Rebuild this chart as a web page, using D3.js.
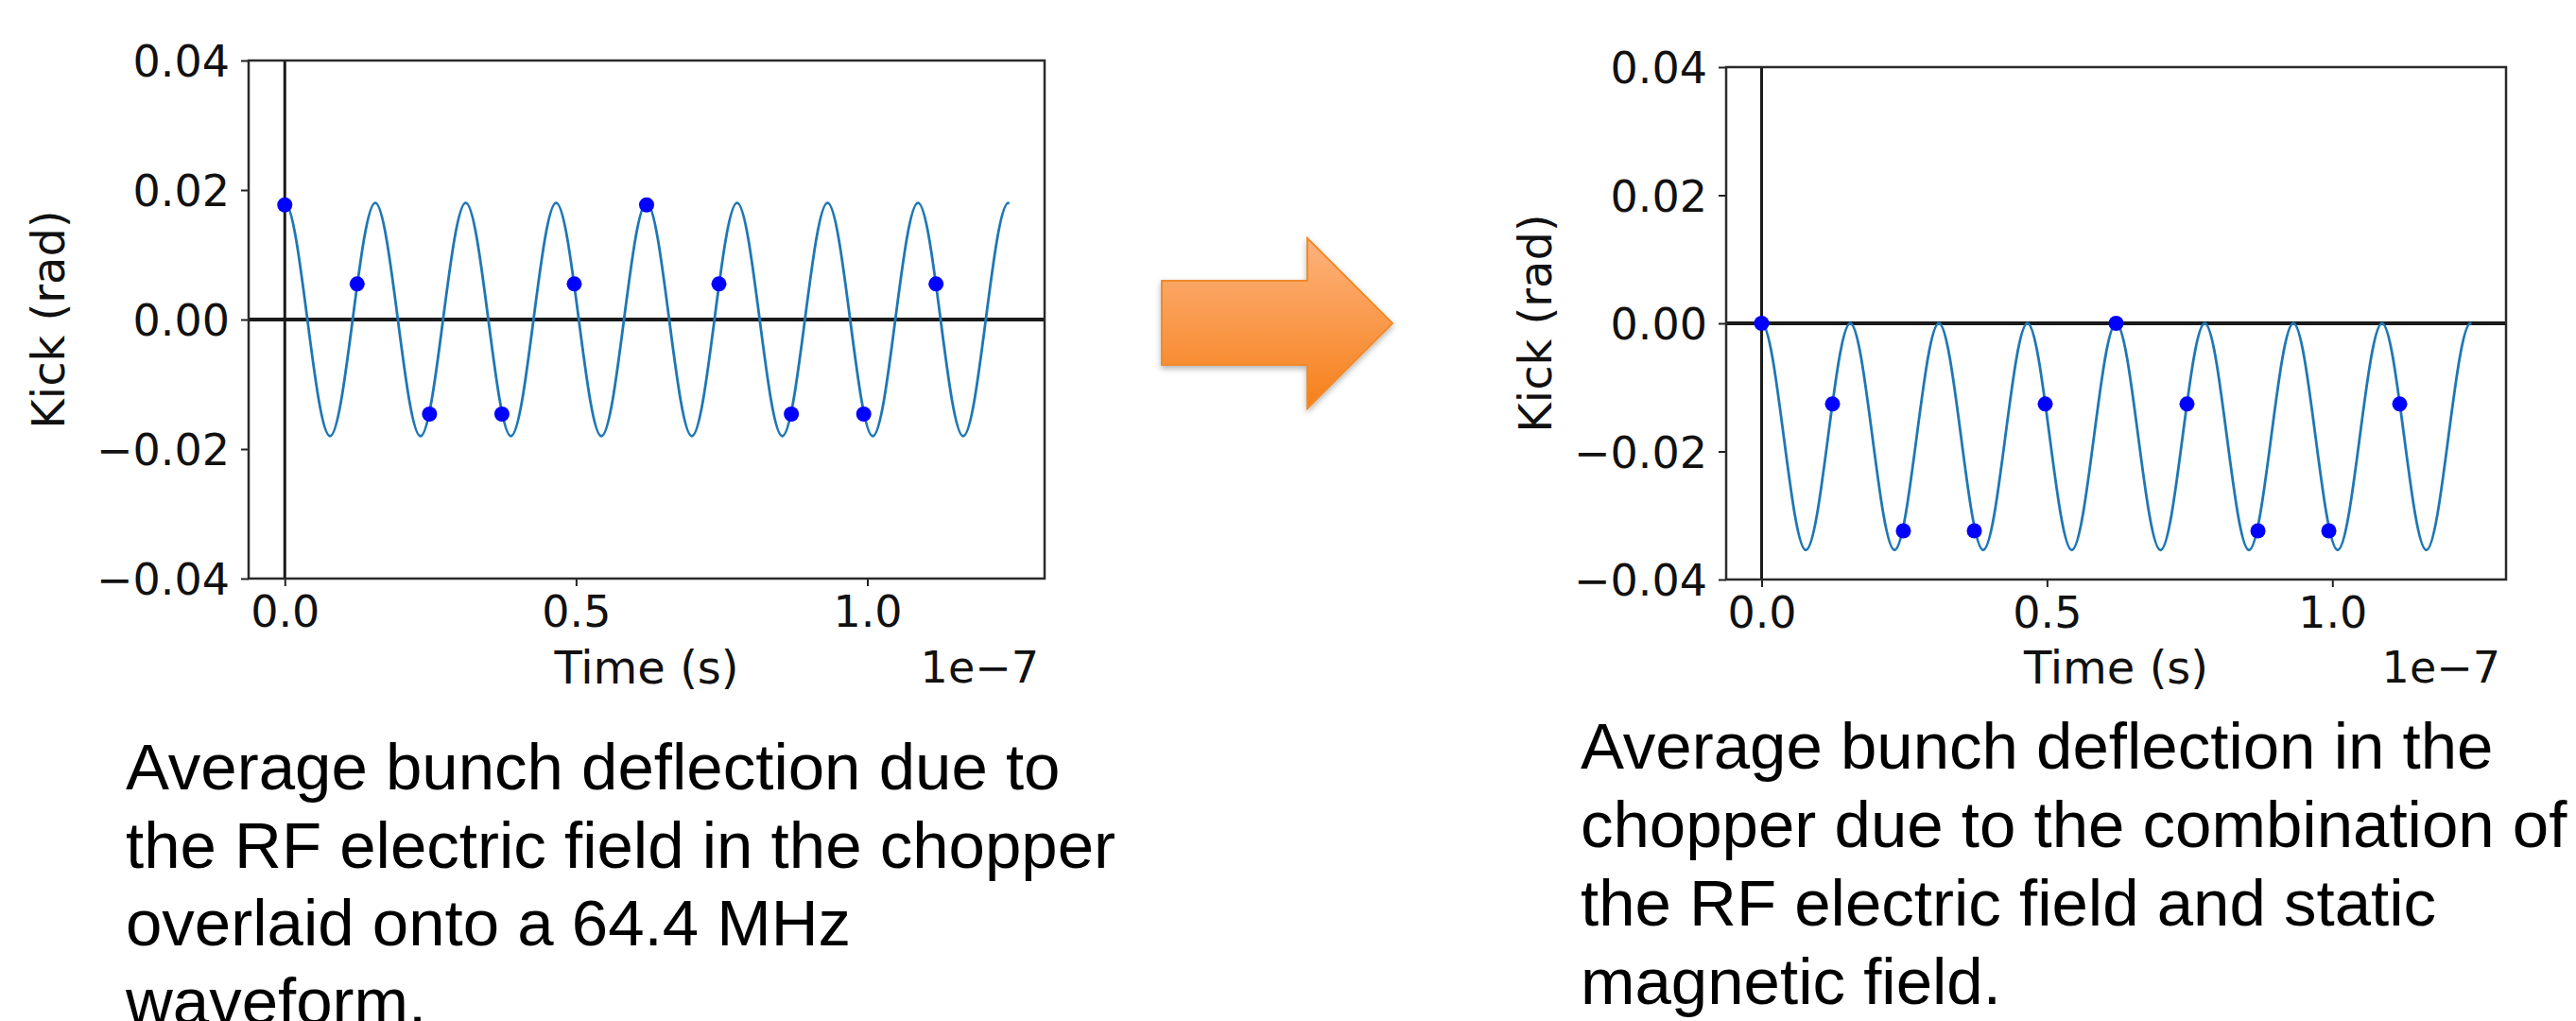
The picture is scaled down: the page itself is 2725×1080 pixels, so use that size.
<!DOCTYPE html>
<html>
<head>
<meta charset="utf-8">
<script src="https://cdn.jsdelivr.net/npm/d3@7"></script>
<style>
  html, body { margin: 0; padding: 0; background: #ffffff; }
  svg { display: block; }
</style>
</head>
<body>
<svg id="chart" width="2725" height="1080"></svg>
<script>
// ---------------- DATA (time in units of 1e-7 s, kick in rad) ----------------
const curveTime = [0, 0.0388, 0.0776, 0.1165, 0.1553, 0.1941, 0.2329, 0.2717, 0.3106,
  0.3494, 0.3882, 0.4270, 0.4658, 0.5047, 0.5435, 0.5823, 0.6211, 0.6599, 0.6988,
  0.7376, 0.7764, 0.8152, 0.8540, 0.8929, 0.9317, 0.9705, 1.0093, 1.0481, 1.0870,
  1.1258, 1.1646, 1.2034, 1.2422];
const kickRF = [0.018, 0, -0.018, 0, 0.018, 0, -0.018, 0, 0.018,
  0, -0.018, 0, 0.018, 0, -0.018, 0, 0.018, 0, -0.018,
  0, 0.018, 0, -0.018, 0, 0.018, 0, -0.018, 0, 0.018,
  0, -0.018, 0, 0.018];
const kickRFStatic = [0, -0.0177, -0.0354, -0.0177, 0, -0.0177, -0.0354, -0.0177, 0,
  -0.0177, -0.0354, -0.0177, 0, -0.0177, -0.0354, -0.0177, 0, -0.0177, -0.0354,
  -0.0177, 0, -0.0177, -0.0354, -0.0177, 0, -0.0177, -0.0354, -0.0177, 0,
  -0.0177, -0.0354, -0.0177, 0];

const bunchTime = [0, 0.1242, 0.2484, 0.3727, 0.4969, 0.6211, 0.7453, 0.8696, 0.9938, 1.1180];
const bunchKickRF = [0.0177, 0.0055, -0.0146, -0.0146, 0.0055, 0.0177, 0.0055, -0.0146, -0.0146, 0.0055];
const bunchKickRFStatic = [0, -0.0126, -0.0324, -0.0324, -0.0126, 0, -0.0126, -0.0324, -0.0324, -0.0126];

const xTicks = [0, 0.5, 1.0];
const xTickLabels = ["0.0", "0.5", "1.0"];
const yTicks = [-0.04, -0.02, 0, 0.02, 0.04];
const yTickLabels = ["\u22120.04", "\u22120.02", "0.00", "0.02", "0.04"];
const xDomain = [-0.0621, 1.3043];
const yDomain = [-0.04, 0.04];

const captionLeft = ["Average bunch deflection due to", "the RF electric field in the chopper",
  "overlaid onto a 64.4 MHz", "waveform."];
const captionRight = ["Average bunch deflection in the", "chopper due to the combination of",
  "the RF electric field and static", "magnetic field."];

// ---------------- DRAWING ----------------
const svg = d3.select("#chart");
const defs = svg.append("defs");
const tickFont = "'DejaVu Sans', sans-serif";

function drawPanel(cfg) {
  const x = d3.scaleLinear().domain(xDomain).range([cfg.left, cfg.right]);
  const y = d3.scaleLinear().domain(yDomain).range([cfg.bottom, cfg.top]);
  const g = svg.append("g");

  // zero reference lines
  g.append("line").attr("x1", cfg.left).attr("x2", cfg.right)
    .attr("y1", y(0)).attr("y2", y(0))
    .attr("stroke", "#1a1a1a").attr("stroke-width", 4);
  g.append("line").attr("x1", x(0)).attr("x2", x(0))
    .attr("y1", cfg.top).attr("y2", cfg.bottom)
    .attr("stroke", "#1a1a1a").attr("stroke-width", 3);

  // waveform: the spline is given the mirrored neighbour at each end so that
  // it meets the end extrema flat, then clipped to the sampled time range
  const n = curveTime.length;
  const pts = curveTime.map((t, i) => [t, cfg.curve[i]]);
  const padded = [[2 * curveTime[0] - curveTime[1], cfg.curve[1]], ...pts,
    [2 * curveTime[n - 1] - curveTime[n - 2], cfg.curve[n - 2]]];
  const clipId = "clip" + cfg.id;
  defs.append("clipPath").attr("id", clipId).append("rect")
    .attr("x", x(curveTime[0])).attr("y", cfg.top)
    .attr("width", x(curveTime[n - 1]) - x(curveTime[0]) + 1).attr("height", cfg.bottom - cfg.top);
  const line = d3.line().x(d => x(d[0])).y(d => y(d[1])).curve(d3.curveNatural);
  g.append("path").datum(padded).attr("d", line).attr("clip-path", `url(#${clipId})`)
    .attr("fill", "none").attr("stroke", "#1f77b4").attr("stroke-width", 2.8);

  // bunch points
  g.selectAll("circle.pt").data(cfg.points).enter().append("circle")
    .attr("class", "pt")
    .attr("cx", (d, i) => x(bunchTime[i])).attr("cy", d => y(d))
    .attr("r", 8).attr("fill", "#0000ff");

  // axes
  const xAxis = d3.axisBottom(x).tickValues(xTicks)
    .tickFormat((d, i) => xTickLabels[i]).tickSize(8).tickPadding(10);
  const gx = g.append("g").attr("transform", `translate(0,${cfg.bottom})`).call(xAxis);
  const yAxis = d3.axisLeft(y).tickValues(yTicks)
    .tickFormat((d, i) => yTickLabels[i]).tickSize(8).tickPadding(12);
  const gy = g.append("g").attr("transform", `translate(${cfg.left},0)`).call(yAxis);
  [gx, gy].forEach(a => {
    a.select(".domain").remove();
    a.selectAll(".tick line").attr("stroke", "#222").attr("stroke-width", 2);
    a.selectAll(".tick text").attr("fill", "#111")
      .style("font-family", tickFont).style("font-size", "46px");
  });
  gx.selectAll(".tick text").attr("dy", "0.71em");
  gy.selectAll(".tick text").attr("dy", "0.36em");

  // frame
  g.append("rect").attr("x", cfg.left).attr("y", cfg.top)
    .attr("width", cfg.right - cfg.left).attr("height", cfg.bottom - cfg.top)
    .attr("fill", "none").attr("stroke", "#2a2a2a").attr("stroke-width", 2.5);

  // labels
  g.append("text").attr("x", (cfg.left + cfg.right) / 2).attr("y", 723)
    .attr("text-anchor", "middle").style("font-family", tickFont).style("font-size", "48px")
    .attr("fill", "#111").text("Time (s)");
  g.append("text").attr("x", cfg.right - 6).attr("y", 722)
    .attr("text-anchor", "end").style("font-family", tickFont).style("font-size", "46px")
    .attr("fill", "#111").text("1e\u22127");
  g.append("text")
    .attr("transform", `translate(${cfg.ylabelX},${(cfg.top + cfg.bottom) / 2}) rotate(-90)`)
    .attr("text-anchor", "middle").style("font-family", tickFont).style("font-size", "48px")
    .attr("fill", "#111").text("Kick (rad)");

  // caption
  const cap = svg.append("text").style("font-family", "'Liberation Sans', Arial, sans-serif")
    .style("font-size", "69px").attr("fill", "#000");
  cfg.caption.forEach((t, i) => {
    cap.append("tspan").attr("x", cfg.capX).attr("y", cfg.capY + i * cfg.capStep).text(t);
  });
}

drawPanel({ id: "L", left: 263, right: 1105, top: 64, bottom: 612, ylabelX: 68,
  curve: kickRF, points: bunchKickRF,
  caption: captionLeft, capX: 133, capY: 835, capStep: 82.5 });
drawPanel({ id: "R", left: 1826, right: 2651, top: 71, bottom: 613, ylabelX: 1641,
  curve: kickRFStatic, points: bunchKickRFStatic,
  caption: captionRight, capX: 1672, capY: 813, capStep: 83 });

// ---------------- ARROW ----------------
const grad = defs.append("linearGradient").attr("id", "arrowGrad")
  .attr("x1", 0).attr("y1", 0).attr("x2", 0).attr("y2", 1);
grad.append("stop").attr("offset", "0%").attr("stop-color", "#fcb27c");
grad.append("stop").attr("offset", "100%").attr("stop-color", "#f7801a");
const shadow = defs.append("filter").attr("id", "arrowShadow")
  .attr("x", "-20%").attr("y", "-20%").attr("width", "140%").attr("height", "140%");
shadow.append("feDropShadow").attr("dx", 0).attr("dy", 3).attr("stdDeviation", 3)
  .attr("flood-color", "#000").attr("flood-opacity", 0.3);

const arrowPts = [[1229, 297], [1383, 297], [1383, 252], [1473, 342],
  [1383, 432], [1383, 386], [1229, 386]];
svg.append("path").attr("d", d3.line()(arrowPts) + "Z")
  .attr("fill", "url(#arrowGrad)").attr("stroke", "#f08a2a").attr("stroke-width", 2)
  .attr("stroke-linejoin", "miter").attr("filter", "url(#arrowShadow)");
</script>
</body>
</html>
